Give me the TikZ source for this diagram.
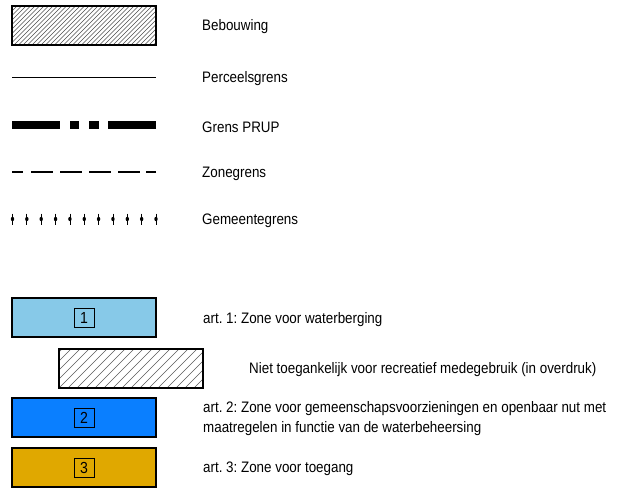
\documentclass[tikz,border=0pt]{standalone}
\usepackage{fontspec}
\setmainfont{Liberation Sans}[FakeStretch=0.88]
\usetikzlibrary{positioning,calc}
\definecolor{zoneA}{RGB}{135,201,232}
\definecolor{zoneB}{RGB}{10,127,255}
\definecolor{zoneC}{RGB}{224,168,0}
\tikzset{
  vak/.style={rectangle, draw, line width=2pt, minimum width=144pt, minimum height=39pt, inner sep=0pt},
  nummer/.style={rectangle, draw, line width=0.9pt, minimum width=20pt, minimum height=19pt, inner sep=0pt, font=\fontsize{16}{16}\selectfont},
  uitleg/.style={anchor=west, align=left, inner sep=0pt, yshift=-2pt, font=\fontsize{15.2}{20}\selectfont},
  grens/.style={line width=8pt},
  zone/.style={line width=2pt}
}

\begin{document}
\frenchspacing
\begin{tikzpicture}[x=1pt,y=-1pt]
\useasboundingbox (0,0) rectangle (617,488);

% bovenste legende
\node[vak] (bebouwing) at (84,25.5) {};
\begin{scope}
\clip (12,6) rectangle (156,45);
\foreach \x in {-40,-35.5,...,160} \draw[gray!60!black, line width=0.55pt] (\x,45) -- ++(39,-39);
\end{scope}
\node[vak,fill=none] at (bebouwing) {};
\node[uitleg] (lbebouwing) at (202,25) {Bebouwing};

\coordinate (p1) at (12,77);
\coordinate (p2) at (156,77);
\draw[line width=0.6pt] (p1) -- (p2);
\node[uitleg] (lperceel) at (202,77) {Perceelsgrens};

\coordinate (g1) at (12,125);
\coordinate (g2) at (156,125);
\draw[grens] (g1) -- ++(48,0);
\draw[grens] ($(g1)+(58,0)$) -- ++(9,0);
\draw[grens] ($(g1)+(77,0)$) -- ++(10,0);
\draw[grens] (g2) -- ++(-48,0);
\node[uitleg] (lprup) at (202,125) {Grens PRUP};

\coordinate (z1) at (12,172);
\coordinate (z2) at (156,172);
\draw[zone] (z1) -- ++(11,0);
\foreach \x in {31,60,89,118} \draw[zone] (\x,172) -- ++(22,0);
\draw[zone] (z2) -- ++(-10,0);
\node[uitleg] (lzone) at (202,172) {Zonegrens};

\foreach \i in {0,...,10} {
  \draw[line width=0.8pt] ({12.5+14.35*\i},213.5) -- ++(0,11);
  \fill ({12.5+14.35*\i},219) ellipse (1.7pt and 2.2pt);
}
\node[uitleg] (lgemeente) at (202,219) {Gemeentegrens};

% bestemmingen
\node[vak,fill=zoneA] (art1) at (84,317.5) {};
\node[nummer] at (art1) {1};
\node[uitleg] (lart1) at (203,318) {art. 1: Zone voor waterberging};

\node[vak] (recreatie) at (131,368.5) {};
\begin{scope}
\clip (59,349) rectangle (203,388);
\foreach \x in {-40,-31,...,210} \draw[gray!70!black, line width=0.6pt] (\x,388) -- ++(39,-39);
\end{scope}
\node[vak,fill=none] at (recreatie) {};
\node[uitleg] (lrecreatie) at (249,368) {Niet toegankelijk voor recreatief medegebruik (in overdruk)};

\node[vak,fill=zoneB] (art2) at (84,417.5) {};
\node[nummer] at (art2) {2};
\node[uitleg] (lart2) at (203,417) {art. 2: Zone voor gemeenschapsvoorzieningen en openbaar nut met\\maatregelen in functie van de waterbeheersing};

\node[vak,fill=zoneC] (art3) at (84,467.5) {};
\node[nummer] at (art3) {3};
\node[uitleg] (lart3) at (203,467) {art. 3: Zone voor toegang};
\end{tikzpicture}
\end{document}
